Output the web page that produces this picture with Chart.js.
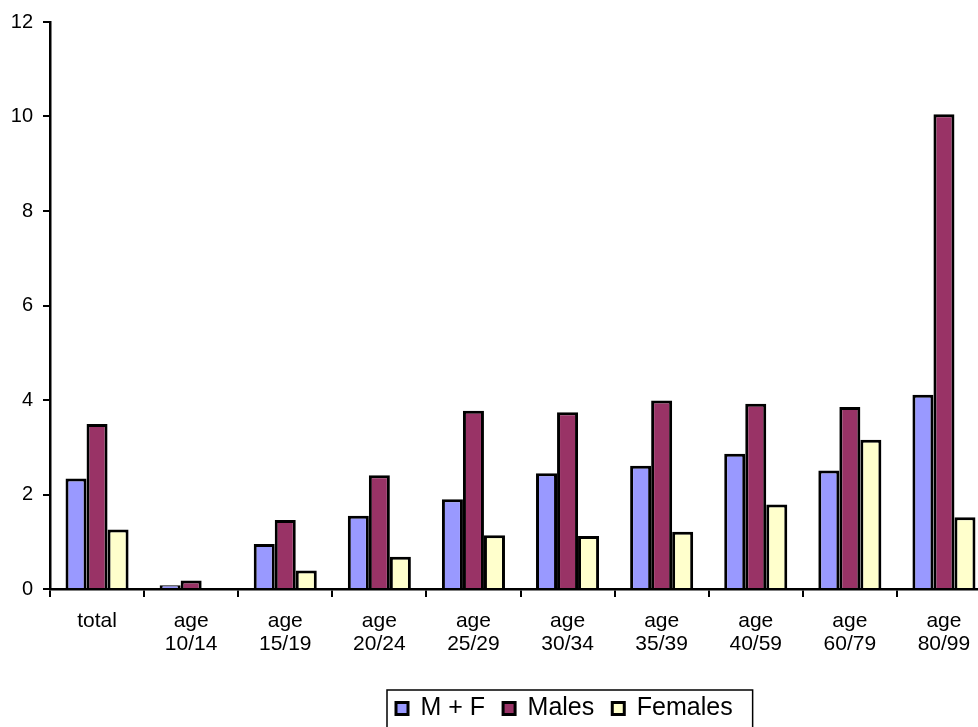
<!DOCTYPE html>
<html>
<head>
<meta charset="utf-8">
<script src="https://cdn.jsdelivr.net/npm/chart.js@4/dist/chart.umd.min.js"></script>
<style>
  html, body { margin: 0; padding: 0; overflow: hidden; background: #ffffff; }
  canvas { display: block; }
</style>
</head>
<body>
<canvas id="chart" width="1000" height="727"></canvas>
<script>
// Rates by age group
const categories = [
  ["total"], ["age", "10/14"], ["age", "15/19"], ["age", "20/24"], ["age", "25/29"],
  ["age", "30/34"], ["age", "35/39"], ["age", "40/59"], ["age", "60/79"], ["age", "80/99"]
];
const seriesNames = ["M + F", "Males", "Females"];
const bothSexes = [2.34, 0.08, 0.95, 1.55, 1.90, 2.45, 2.61, 2.86, 2.51, 4.11];
const males     = [3.49, 0.18, 1.46, 2.41, 3.77, 3.74, 3.99, 3.92, 3.85, 10.05];
const females   = [1.26, 0,    0.39, 0.68, 1.14, 1.12, 1.21, 1.79, 3.16, 1.52];
const yTicks = [0, 2, 4, 6, 8, 10, 12];

const FONT = "'Liberation Sans', Arial, sans-serif";

// Places the legend below the plot and frames it with a thin box
const legendFrame = {
  id: 'legendFrame',
  afterLayout(chart) {
    const lg = chart.legend;
    const w = lg.right - lg.left;
    lg.left = chart.chartArea.left + 328;
    lg.right = lg.left + w;
    lg.top += 4;
    lg.bottom += 4;
  },
  afterDraw(chart) {
    const boxes = chart.legend.legendHitBoxes;
    if (!boxes || !boxes.length) return;
    const first = boxes[0], last = boxes[boxes.length - 1];
    const ctx = chart.ctx;
    ctx.save();
    ctx.strokeStyle = '#000';
    ctx.lineWidth = 1.5;
    const x0 = first.left - 9;
    const x1 = last.left + last.width + 20;
    const y0 = first.top - 6;
    ctx.strokeRect(x0, y0, x1 - x0, 80);
    ctx.restore();
  }
};

const ds = (label, data, color) => ({
  label, data,
  backgroundColor: color,
  borderColor: '#000',
  borderWidth: 3,
  barPercentage: 1.0,
  categoryPercentage: 0.67
});

new Chart(document.getElementById('chart'), {
  type: 'bar',
  data: {
    labels: categories,
    datasets: [
      ds(seriesNames[0], bothSexes, '#9999FF'),
      ds(seriesNames[1], males, '#993366'),
      ds(seriesNames[2], females, '#FFFFCC')
    ]
  },
  options: {
    responsive: false,
    animation: false,
    layout: { padding: { top: 22, right: 9, left: 0, bottom: 0 } },
    plugins: {
      tooltip: { enabled: false },
      legend: {
        position: 'bottom',
        align: 'start',
        labels: {
          boxWidth: 12,
          boxHeight: 12,
          padding: 18,
          color: '#000',
          font: { family: FONT, size: 25 }
        }
      }
    },
    scales: {
      x: {
        afterFit(scale) { scale.height = 85; },
        grid: { drawOnChartArea: false, color: '#000', lineWidth: 2, tickLength: 8, offset: true },
        border: { color: '#000', width: 2.5 },
        ticks: { color: '#000', padding: 12, maxRotation: 0, font: { family: FONT, size: 21, lineHeight: 1.12 } }
      },
      y: {
        min: 0, max: 12,
        afterFit(scale) { scale.width = 50; },
        afterBuildTicks(scale) { scale.ticks = yTicks.map(v => ({ value: v })); },
        grid: { drawOnChartArea: false, color: '#000', lineWidth: 2, tickLength: 7 },
        border: { color: '#000', width: 2.5 },
        ticks: { color: '#000', padding: 10, font: { family: FONT, size: 20 } }
      }
    }
  },
  plugins: [legendFrame]
});
</script>
</body>
</html>
